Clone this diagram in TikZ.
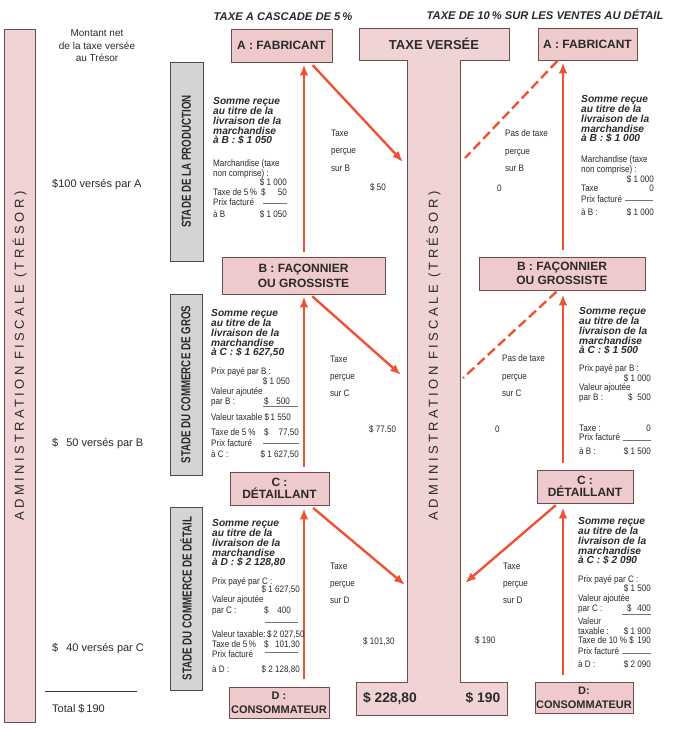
\documentclass[tikz,border=0pt]{standalone}
\usepackage{xcolor}
\usepackage{fontspec}
\setmainfont{Liberation Sans}
\newfontfamily\etroit[FakeStretch=0.86]{Liberation Sans}
\newfontfamily\stadefont[FakeStretch=0.75]{Liberation Sans}
\newfontfamily\espace[LetterSpace=26]{Liberation Sans}
\usepackage{tikz}
\usetikzlibrary{calc}
\usetikzlibrary{arrows.meta}
\usetikzlibrary{positioning}

\definecolor{rose}{HTML}{EECACC}
\definecolor{roseclair}{HTML}{F0D3D5}
\definecolor{bord}{HTML}{6E4B4E}
\definecolor{gris}{HTML}{D4D4D6}
\definecolor{rouge}{HTML}{EF5234}
\definecolor{encre}{HTML}{2A2A2A}

\newcommand{\petit}{\etroit\fontsize{9.4}{11}\selectfont}
\newcommand{\somme}{\bfseries\itshape\fontsize{10.2}{9.8}\selectfont}

\tikzset{
 boite/.style={rectangle, draw=bord, fill=rose, line width=0.6pt, inner sep=0pt, align=center, text=encre, font=\bfseries\fontsize{12}{14}\selectfont},
 stade/.style={rectangle, draw=black!70, fill=gris, line width=0.6pt, inner sep=0pt, rotate=90, text=encre, font=\stadefont\bfseries\fontsize{13}{13}\selectfont},
 somme/.style={anchor=north west, inner sep=0pt, align=left, text=encre, font=\somme, yshift=3.6pt},
 petit/.style={anchor=base west, inner sep=0pt, text=encre, font=\petit, yshift=-3.4pt},
 chiffre/.style={petit, anchor=base east},
 percue/.style={anchor=north west, inner sep=0pt, align=left, text=encre, font=\petit, yshift=3.4pt},
 texte/.style={anchor=base west, inner sep=0pt, text=encre, font=\fontsize{11}{13}\selectfont, yshift=-4pt},
 titre/.style={inner sep=0pt, text=encre, font=\bfseries\itshape\fontsize{11.2}{11}\selectfont},
 admin/.style={inner sep=0pt, rotate=90, text=encre, font=\espace\fontsize{13}{13}\selectfont},
 filet/.style={draw=black!55, line width=0.4pt},
 fleche/.style={-{Latex[length=11pt, width=8.5pt]}, draw=rouge, line width=2.4pt},
 tirets/.style={draw=rouge, line width=2.4pt, dash pattern=on 9.5pt off 4.5pt}
}

\begin{document}
\begin{tikzpicture}[x=1pt, y=-1pt]
 \fill [white] (0,0) rectangle (678,729);
 \useasboundingbox (0,0) rectangle (678,729);

 \node [rectangle, draw=bord, fill=roseclair, line width=0.6pt, inner sep=0pt, minimum width=31pt, minimum height=693pt] (TR) at (19.5,375.5) {};
 \node [admin] (TRt) at (19.5,356) {ADMINISTRATION FISCALE (TRÉSOR)};
 \draw [draw=bord, fill=roseclair, line width=0.6pt] (359,28) -- (509,28) -- (509,60) -- (460,60) -- (460,682) -- (507,682) -- (507,715) -- (356,715) -- (356,682) -- (407,682) -- (407,60) -- (359,60) -- cycle;
 \node [inner sep=0pt, text=encre, font=\bfseries\fontsize{13}{13}\selectfont] (TV) at (434,44) {TAXE VERSÉE};
 \node [admin] (TVt) at (433.5,356) {ADMINISTRATION FISCALE (TRÉSOR)};
 \node [inner sep=0pt, text=encre, font=\bfseries\fontsize{13.8}{14}\selectfont] (S1) at (390,698) {\$ 228,80};
 \node [inner sep=0pt, text=encre, font=\bfseries\fontsize{13.8}{14}\selectfont] (S2) at (483,698) {\$ 190};

 \node [titre] (T1) at (283,17) {TAXE A CASCADE DE 5\,\%};
 \node [titre] (T2) at (545,15) {TAXE DE 10\,\% SUR LES VENTES AU DÉTAIL};

 \node [inner sep=0pt, anchor=north, align=center, text=encre, font=\fontsize{10}{12.5}\selectfont] (MN) at (97,29.5) {Montant net\\de la taxe versée\\au Trésor};
 \node [texte] (VA) at (52,183) {\$100 versés par A};
 \node [texte] (VB) at (52,442) {\$\hphantom{1}\,50 versés par B};
 \node [texte] (VC) at (52,647) {\$\hphantom{1}\,40 versés par C};
 \draw [draw=black!80, line width=0.6pt] (45,691) -- (137,691);
 \node [texte] (TT) at (52,708) {Total \$\,190};

 \node [stade, minimum width=199pt, minimum height=33pt] (G1) at (186.5,161.5) {STADE DE LA PRODUCTION};
 \node [stade, minimum width=181pt, minimum height=32pt] (G2) at (186,384.5) {STADE DU COMMERCE DE GROS};
 \node [stade, minimum width=183pt, minimum height=32pt] (G3) at (186,598.5) {STADE DU COMMERCE DE DÉTAIL};

 \node [boite, minimum width=101pt, minimum height=33pt] (A1) at (281.5,45.5) {A : FABRICANT};
 \node [boite, minimum width=163pt, minimum height=37pt, font=\bfseries\fontsize{12}{15}\selectfont] (B1) at (303.5,275.5) {B : FAÇONNIER\\OU GROSSISTE};
 \node [boite, minimum width=99pt, minimum height=33pt, font=\bfseries\fontsize{12}{12.5}\selectfont] (C1) at (279.5,488.5) {C :\\DÉTAILLANT};
 \node [boite, minimum width=100pt, minimum height=31pt, font=\bfseries\fontsize{11}{14}\selectfont] (D1) at (279,702.5) {D :\\CONSOMMATEUR};
 \node [boite, minimum width=99pt, minimum height=32pt] (A2) at (587.5,44) {A : FABRICANT};
 \node [boite, minimum width=166pt, minimum height=33pt, font=\bfseries\fontsize{12}{14}\selectfont] (B2) at (562,273.5) {B : FAÇONNIER\\OU GROSSISTE};
 \node [boite, minimum width=96pt, minimum height=33pt, font=\bfseries\fontsize{12}{12.5}\selectfont] (C2) at (585,486.5) {C :\\DÉTAILLANT};
 \node [boite, minimum width=98pt, minimum height=31pt, font=\bfseries\fontsize{11}{14}\selectfont] (D2) at (584,697.5) {D:\\CONSOMMATEUR};

 \coordinate (xg) at (304,0);
 \coordinate (xgd) at (310,0);
 \coordinate (xd) at (563,0);
 \coordinate (xdd) at (558,0);
 \coordinate (P1) at (403,162);
 \coordinate (P2) at (401,375);
 \coordinate (P3) at (405,585);
 \coordinate (Q1) at (465,158);
 \coordinate (Q2) at (463,378);
 \coordinate (Q3) at (465,583);

 \draw [fleche, shorten <=5pt, shorten >=2pt] (B1.north -| xg) to (A1.south -| xg);
 \draw [fleche, shorten <=5pt, shorten >=2pt] (C1.north -| xg) to (B1.south -| xg);
 \draw [fleche, shorten <=8pt, shorten >=3pt] (D1.north -| xg) to (C1.south -| xg);
 \draw [fleche, shorten <=4pt] (A1.south -| xgd) to (P1);
 \draw [fleche, shorten <=3pt] (B1.south -| xgd) to (P2);
 \draw [fleche, shorten <=4pt] (C1.south -| xgd) to (P3);
 \draw [fleche, shorten <=7pt, shorten >=2pt] (B2.north -| xd) to (A2.south -| xd);
 \draw [fleche, shorten <=7pt, shorten >=4pt] (C2.north -| xd) to (B2.south -| xd);
 \draw [fleche, shorten <=7pt, shorten >=4pt] (D2.north -| xd) to (C2.south -| xd);
 \draw [tirets, shorten <=1pt] (A2.south -| xdd) to (Q1);
 \draw [tirets, shorten <=2pt] (B2.south -| xdd) to (Q2);
 \draw [fleche, shorten <=3pt] (C2.south -| xdd) to (Q3);

 \node [somme] (L1s) at (213,101) {Somme reçue\\au titre de la\\livraison de la\\marchandise\\à B : \$ 1 050};
 \node [petit] (L1a) at (213,163) {Marchandise (taxe};
 \node [petit] (L1b) at (213,173) {non comprise) :};
 \node [chiffre] (L1c) at (287,182) {\$ 1 000};
 \node [petit] (L1d) at (213,192) {Taxe de 5\,\%};
 \node [petit] (L1e) at (261,192) {\$};
 \node [chiffre] (L1f) at (287,192) {50};
 \node [petit] (L1g) at (213,202) {Prix facturé};
 \draw [filet] (263,203) -- (287,203);
 \node [petit] (L1h) at (213,214) {à B};
 \node [chiffre] (L1i) at (287,214) {\$ 1 050};
 \node [percue] (L1p) at (331,133) {Taxe\\[6.5pt]perçue\\[6.5pt]sur B};
 \node [petit] (L1m) at (370,187) {\$ 50};

 \node [somme] (L2s) at (211,313) {Somme reçue\\au titre de la\\livraison de la\\marchandise\\à C : \$ 1 627,50};
 \node [petit] (L2a) at (211,371) {Prix payé par B :};
 \node [chiffre] (L2b) at (290,381) {\$ 1 050};
 \node [petit] (L2c) at (211,391) {Valeur ajoutée};
 \node [petit] (L2d) at (211,401) {par B :};
 \node [petit] (L2e) at (264,401) {\$};
 \node [chiffre] (L2f) at (290,401) {500};
 \draw [filet] (263,406) -- (298,406);
 \node [petit] (L2g) at (211,417) {Valeur taxable};
 \node [chiffre] (L2h) at (291,417) {\$\,1 550};
 \node [petit] (L2i) at (211,432) {Taxe de 5 \%};
 \node [petit] (L2j) at (264,432) {\$};
 \node [chiffre] (L2k) at (299,432) {77,50};
 \node [petit] (L2l) at (211,443) {Prix facturé};
 \draw [filet] (263,443) -- (299,443);
 \node [petit] (L2n) at (211,454) {à C :};
 \node [chiffre] (L2o) at (299,454) {\$ 1 627,50};
 \node [percue] (L2p) at (330,359) {Taxe\\[6pt]perçue\\[6pt]sur C};
 \node [petit] (L2m) at (369,429) {\$ 77.50};

 \node [somme] (L3s) at (212,523) {Somme reçue\\au titre de la\\livraison de la\\marchandise\\à D : \$ 2 128,80};
 \node [petit] (L3a) at (212,581) {Prix payé par C :};
 \node [chiffre] (L3b) at (300,589) {\$ 1 627,50};
 \node [petit] (L3c) at (212,599) {Valeur ajoutée};
 \node [petit] (L3d) at (212,610) {par C :};
 \node [petit] (L3e) at (264,610) {\$};
 \node [chiffre] (L3f) at (291,610) {400};
 \draw [filet] (265,622) -- (298,622);
 \node [petit] (L3g) at (212,634) {Valeur taxable:\,\$\,2 027,50};
 \node [petit] (L3i) at (212,644) {Taxe de 5\,\%};
 \node [petit] (L3j) at (264,644) {\$};
 \node [chiffre] (L3k) at (300,644) {101,30};
 \node [petit] (L3l) at (212,654) {Prix facturé};
 \draw [filet] (265,652) -- (298,652);
 \node [petit] (L3n) at (212,669) {à D :};
 \node [chiffre] (L3o) at (300,669) {\$ 2 128,80};
 \node [percue] (L3p) at (330,566) {Taxe\\[6pt]perçue\\[6pt]sur D};
 \node [petit] (L3m) at (363,641) {\$ 101,30};

 \node [somme] (R1s) at (581,99) {Somme reçue\\au titre de la\\livraison de la\\marchandise\\à B : \$ 1 000};
 \node [petit] (R1a) at (581,159) {Marchandise (taxe};
 \node [petit] (R1b) at (581,169) {non comprise) :};
 \node [chiffre] (R1c) at (654,179) {\$ 1 000};
 \node [petit] (R1d) at (581,188) {Taxe};
 \node [chiffre] (R1f) at (654,188) {0};
 \node [petit] (R1g) at (581,199) {Prix facturé};
 \draw [filet] (625,200) -- (653,200);
 \node [petit] (R1h) at (581,212) {à B :};
 \node [chiffre] (R1i) at (654,212) {\$ 1 000};
 \node [percue] (R1p) at (505,133) {Pas de taxe\\[6.5pt]perçue\\[6.5pt]sur B};
 \node [petit] (R1m) at (497,188) {0};

 \node [somme] (R2s) at (579,311) {Somme reçue\\au titre de la\\livraison de la\\marchandise\\à C : \$ 1 500};
 \node [petit] (R2a) at (579,368) {Prix payé par B :};
 \node [chiffre] (R2b) at (651,378) {\$ 1 000};
 \node [petit] (R2c) at (579,387) {Valeur ajoutée};
 \node [petit] (R2d) at (579,397) {par B :};
 \node [petit] (R2e) at (628,397) {\$};
 \node [chiffre] (R2f) at (651,397) {500};
 \node [petit] (R2g) at (579,428) {Taxe :};
 \node [chiffre] (R2h) at (651,428) {0};
 \node [petit] (R2l) at (579,437) {Prix facturé};
 \draw [filet] (623,440) -- (651,440);
 \node [petit] (R2n) at (579,451) {à B :};
 \node [chiffre] (R2o) at (651,451) {\$ 1 500};
 \node [percue] (R2p) at (502,358) {Pas de taxe\\[6.5pt]perçue\\[6.5pt]sur C};
 \node [petit] (R2m) at (495,429) {0};

 \node [somme] (R3s) at (578,521) {Somme reçue\\au titre de la\\livraison de la\\marchandise\\à C : \$ 2 090};
 \node [petit] (R3a) at (578,579) {Prix payé par C :};
 \node [chiffre] (R3b) at (651,588) {\$ 1 500};
 \node [petit] (R3c) at (578,598) {Valeur ajoutée};
 \node [petit] (R3d) at (578,608) {par C :};
 \node [petit] (R3e) at (627,608) {\$};
 \node [chiffre] (R3f) at (651,608) {400};
 \draw [filet] (622,614) -- (651,614);
 \node [petit] (R3g) at (578,621) {Valeur};
 \node [petit] (R3h) at (578,631) {taxable :};
 \node [chiffre] (R3i) at (651,631) {\$ 1 900};
 \node [petit] (R3j) at (578,640) {Taxe de 10 \% \$};
 \node [chiffre] (R3k) at (651,640) {190};
 \node [petit] (R3l) at (578,651) {Prix facturé};
 \draw [filet] (622,653) -- (651,653);
 \node [petit] (R3n) at (578,664) {à D :};
 \node [chiffre] (R3o) at (651,664) {\$ 2 090};
 \node [percue] (R3p) at (503,566) {Taxe\\[6pt]perçue\\[6pt]sur D};
 \node [petit] (R3m) at (475,640) {\$ 190};
\end{tikzpicture}
\end{document}
